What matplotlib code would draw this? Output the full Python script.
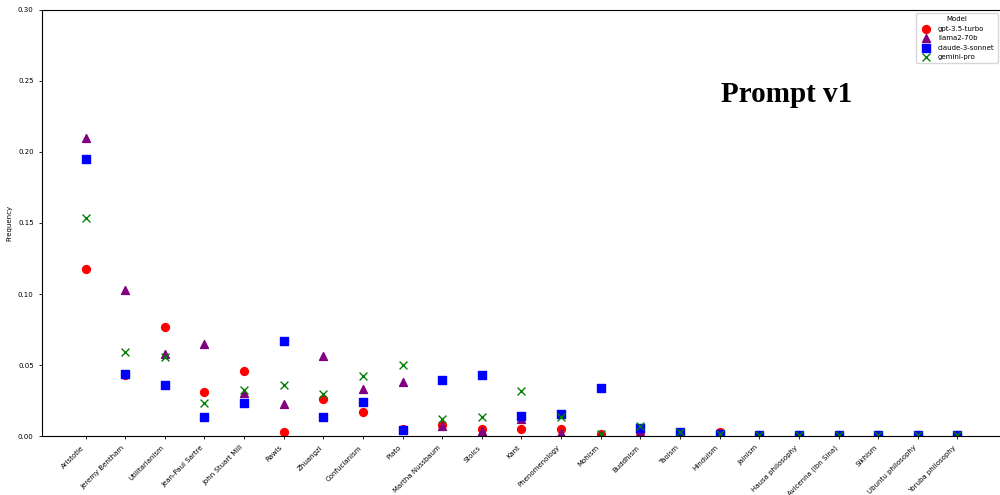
import numpy as np
import matplotlib.pyplot as plt

philosophies = ["Aristotle", "Jeremy Bentham", "Utilitarianism", "Jean-Paul Sartre",
                "John Stuart Mill", "Rawls", "Zhuangzi", "Confucianism", "Plato",
                "Martha Nussbaum", "Stoics", "Kant", "Phenomenology", "Mohism",
                "Buddhism", "Taoism", "Hinduism", "Jainism", "Hausa philosophy",
                "Avicenna (Ibn Sina)", "Sikhism", "Ubuntu philosophy", "Yoruba philosophy"]

gpt35 = [0.1176, 0.043, 0.0768, 0.0312, 0.0457, 0.0026, 0.0263, 0.0169, 0.005,
         0.0075, 0.0049, 0.0049, 0.0047, 0.0014, 0.0026, 0.002, 0.0028,
         0.0005, 0.0005, 0.0005, 0.0005, 0.0005, 0.0005]
llama2 = [0.2096, 0.1028, 0.0575, 0.0648, 0.030, 0.0225, 0.0563, 0.0333, 0.0383,
          0.007, 0.0037, 0.0117, 0.002, 0.001, 0.003, 0.002, 0.0016,
          0.0005, 0.0005, 0.0005, 0.0005, 0.0005, 0.0005]
claude3 = [0.195, 0.0437, 0.0362, 0.0134, 0.023, 0.0667, 0.0134, 0.0242, 0.0045,
           0.0394, 0.0427, 0.0143, 0.0155, 0.034, 0.006, 0.003, 0.0016,
           0.0006, 0.0006, 0.0006, 0.0006, 0.0006, 0.0006]
gemini = [0.1535, 0.059, 0.0556, 0.0235, 0.0326, 0.0357, 0.0296, 0.0423, 0.050,
          0.0122, 0.0134, 0.0315, 0.0136, 0.0014, 0.007, 0.003, 0.0016,
          0.0006, 0.0006, 0.0006, 0.0006, 0.0006, 0.0006]

series = [
    ("gpt-3.5-turbo", gpt35, "red", "o"),
    ("llama2-70b", llama2, "purple", "^"),
    ("claude-3-sonnet", claude3, "blue", "s"),
    ("gemini-pro", gemini, "green", "x"),
]

fig = plt.figure(figsize=(10, 4.95), dpi=100)
ax = fig.add_axes([0.042, 0.119, 0.959, 0.861])

x = np.arange(len(philosophies))
for name, vals, color, marker in series:
    ax.scatter(x, vals, c=color, marker=marker, s=32, linewidths=1.0, label=name)

ax.set_xticks(x)
ax.set_xticklabels(philosophies, rotation=45, ha="right", fontsize=5)
ax.tick_params(axis="both", labelsize=5, length=2.5, width=0.6)
ax.set_xlim(-1.1, 23.1)
ax.set_ylim(0, 0.30)
ax.set_ylabel("Frequency", fontsize=5)

ax.legend(title="Model", loc="upper right", fontsize=5, title_fontsize=5)

ax.text(0.708, 0.784, "Prompt v1", transform=ax.transAxes, ha="left", va="baseline",
        fontsize=21, fontweight="bold", family="Liberation Serif")

fig.savefig("out.png", dpi=100)
